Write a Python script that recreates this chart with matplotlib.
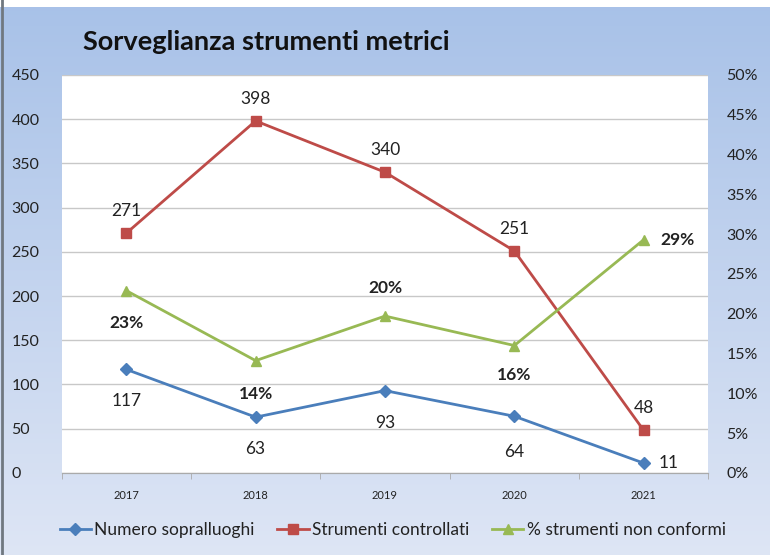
import matplotlib.pyplot as plt
import numpy as np
from matplotlib.ticker import FuncFormatter, MultipleLocator

plt.rcParams['font.family'] = ['Lato', 'DejaVu Sans']

anni = ['2017', '2018', '2019', '2020', '2021']
sopralluoghi = [117, 63, 93, 64, 11]
controllati = [271, 398, 340, 251, 48]
non_conformi = [0.229, 0.141, 0.197, 0.160, 0.293]
etichette_pct = ['23%', '14%', '20%', '16%', '29%']

# label placement (offset in points)
off_blu = [(0, -23), (0, -23), (0, -23), (0, -26), (18, 0)]
off_rosso = [(0, 16), (0, 16), (0, 16), (0, 16), (0, 16)]
off_verde = [(0, -23), (0, -24), (0, 20), (0, -21), (24, 0)]

blu = '#4a7ebb'
rosso = '#be4b48'
verde = '#98b954'
testo = '#222222'

fig = plt.figure(figsize=(7.7, 5.55), dpi=100)

# background gradient
bg = fig.add_axes([0, 0, 1, 1], zorder=-10)
grad = np.linspace(0, 1, 256).reshape(-1, 1)
c_top = np.array([0.66, 0.76, 0.91])
c_bot = np.array([0.87, 0.90, 0.96])
img = c_top + (c_bot - c_top) * grad[:, :, None]
bg.imshow(img, aspect='auto', extent=[0, 1, 0, 0.987])
bg.set_xlim(0, 1)
bg.set_ylim(0, 1)
bg.axvline(0.002, color='#707880', lw=2)
bg.axis('off')

ax = fig.add_axes([0.080, 0.148, 0.840, 0.717])
ax.set_facecolor('white')
ax2 = ax.twinx()

x = np.arange(len(anni))

ax.plot(x, sopralluoghi, color=blu, marker='D', markersize=6, lw=2, label='Numero sopralluoghi')
ax.plot(x, controllati, color=rosso, marker='s', markersize=7, lw=2, label='Strumenti controllati')
ax2.plot(x, non_conformi, color=verde, marker='^', markersize=7, lw=2, label='% strumenti non conformi')

for i in range(len(x)):
    ax.annotate(str(sopralluoghi[i]), (x[i], sopralluoghi[i]), xytext=off_blu[i],
                textcoords='offset points', ha='center', va='center', fontsize=12.5, color=testo)
    ax.annotate(str(controllati[i]), (x[i], controllati[i]), xytext=off_rosso[i],
                textcoords='offset points', ha='center', va='center', fontsize=12.5, color=testo)
    ax2.annotate(etichette_pct[i], (x[i], non_conformi[i]), xytext=off_verde[i],
                 textcoords='offset points', ha='center', va='center', fontsize=12.5,
                 fontweight='bold', color=testo)

ax.set_xlim(-0.5, 4.5)
ax.set_ylim(0, 450)
ax2.set_ylim(0, 0.5)
ax.yaxis.set_major_locator(MultipleLocator(50))
ax2.yaxis.set_major_locator(MultipleLocator(0.05))
ax2.yaxis.set_major_formatter(FuncFormatter(lambda v, p: f'{v*100:.0f}%'))

ax.set_xticks(x)
ax.set_xticklabels(anni, fontsize=8, color=testo)
ax.set_xticks(np.arange(-0.5, 5, 1), minor=True)
ax.tick_params(axis='x', which='major', length=0, pad=12)
ax.tick_params(axis='x', which='minor', length=4, color='#aaaaaa')
ax.tick_params(axis='y', length=0, labelsize=11.5, labelcolor=testo, pad=36)
for lab in ax.get_yticklabels():
    lab.set_horizontalalignment('left')
ax2.tick_params(axis='y', length=0, labelsize=11.5, labelcolor=testo, pad=13)

ax.grid(axis='y', color='#c8c8c8', lw=1)
ax.set_axisbelow(True)
for a in (ax, ax2):
    for s in ['top', 'left', 'right']:
        a.spines[s].set_visible(False)
    a.spines['bottom'].set_color('#aaaaaa')

fig.text(0.108, 0.925, 'Sorveglianza strumenti metrici', fontsize=19.5, fontweight='bold',
         ha='left', va='center', color='#111111')

h1, l1 = ax.get_legend_handles_labels()
h2, l2 = ax2.get_legend_handles_labels()
fig.legend(h1 + h2, l1 + l2, loc='center', bbox_to_anchor=(0.51, 0.045), ncol=3,
           frameon=False, fontsize=12.5, handlelength=1.8, columnspacing=1.3, handletextpad=0.2,
           labelcolor=testo)

fig.savefig('out.png', dpi=100)
